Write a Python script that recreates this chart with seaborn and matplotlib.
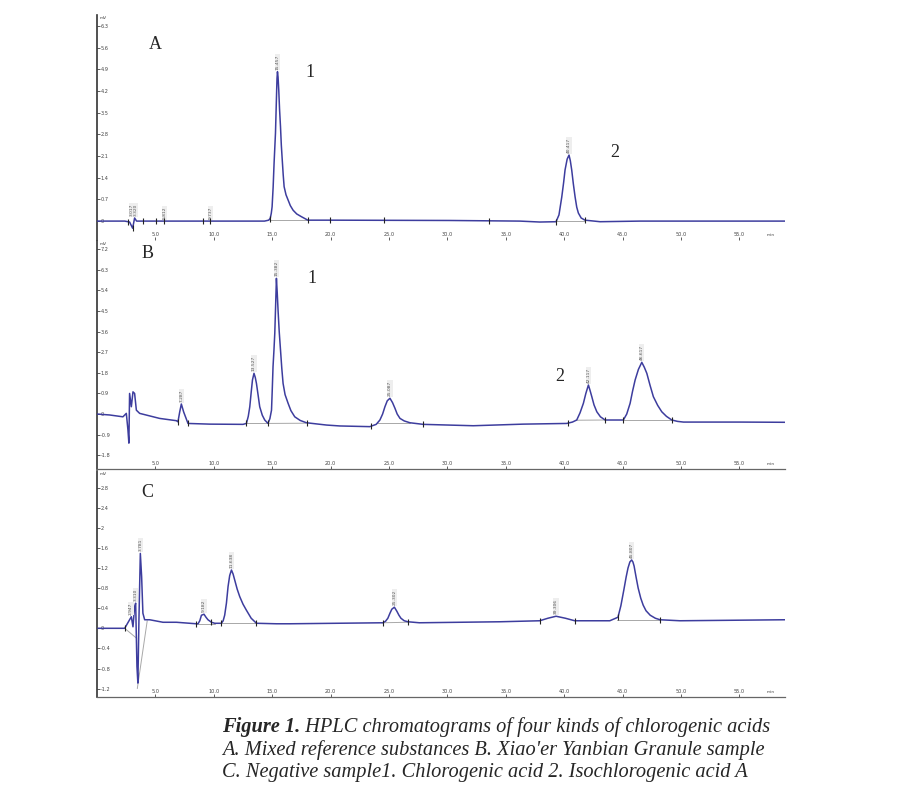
import matplotlib
matplotlib.use("Agg")
import matplotlib.pyplot as plt
import numpy as np
import pandas as pd
import seaborn as sns

sns.set_style("white")
plt.rcParams["font.family"] = ["DejaVu Sans"]

# ---------------- data ----------------
# Panel A: mixed reference substances (time in min, signal in mV)
a_time = [0.0, 2.37, 2.79, 3.05, 3.22, 3.39, 5.79, 9.65, 14.34, 14.7, 14.83, 14.92,
          14.99, 15.08, 15.16, 15.28, 15.35, 15.41, 15.45, 15.50, 15.56, 15.63, 15.71,
          15.78, 15.86, 15.94, 16.02, 16.18, 16.36, 16.55, 16.79, 17.1, 17.51, 18.05,
          19.93, 30.2, 36.2, 37.9, 39.3, 39.55, 39.79, 39.95, 40.07, 40.25, 40.41,
          40.52, 40.64, 40.78, 40.93, 41.07, 41.21, 41.45, 41.78, 43.07, 46.5, 58.9]
a_signal = [0.0, 0.0, -0.03, -0.23, 0.10, 0.0, 0.0, 0.0, 0.0, 0.03, 0.09, 0.25,
            0.46, 1.10, 1.87, 2.84, 3.80, 4.60, 4.82, 4.65, 4.23, 3.60, 3.04,
            2.45, 1.97, 1.50, 1.11, 0.85, 0.68, 0.50, 0.35, 0.23, 0.14, 0.03,
            0.03, 0.02, 0.0, -0.03, -0.02, 0.20, 0.78, 1.25, 1.65, 2.00, 2.13,
            1.95, 1.65, 1.20, 0.78, 0.45, 0.26, 0.10, 0.03, -0.02, 0.0, 0.0]

# Panel B: Xiao'er Yanbian Granule sample
b_time = [0.03, 1.08, 2.22, 2.51, 2.65, 2.73, 2.79, 2.94, 3.08, 3.22, 3.37, 3.65,
          5.36, 6.80, 6.93, 7.08, 7.22, 7.42, 7.79, 9.65, 12.50,
          12.79, 12.95, 13.08, 13.2, 13.31, 13.44, 13.55, 13.65, 13.8, 13.93, 14.15,
          14.36, 14.64, 14.8, 14.94, 15.0, 15.07, 15.15, 15.22, 15.29, 15.36, 15.43,
          15.50, 15.6, 15.71, 15.82, 15.93, 16.1, 16.36, 16.6, 16.93, 17.4, 17.93,
          19.65, 20.79, 23.36, 23.9, 24.22, 24.45, 24.65, 24.85, 25.08, 25.3, 25.51,
          25.7, 25.94, 26.3, 26.79, 27.93, 32.21, 36.50, 40.21, 40.7, 41.07, 41.35,
          41.64, 41.85, 42.07, 42.2, 42.36, 42.55, 42.79, 43.1, 43.50, 45.06, 45.35,
          45.64, 45.85, 46.07, 46.35, 46.64, 46.85, 47.07, 47.35, 47.63, 48.0, 48.35,
          48.75, 49.21, 49.7, 50.21, 55.06, 59.0]
b_signal = [0.0, -0.04, -0.12, 0.03, -0.70, -1.27, 0.90, 0.32, 0.97, 0.90, 0.17, 0.03,
            -0.19, -0.29, -0.34, 0.09, 0.44, 0.09, -0.41, -0.44, -0.45,
            -0.41, -0.10, 0.32, 0.95, 1.49, 1.78, 1.60, 1.34, 0.80, 0.32, -0.05,
            -0.26, -0.41, -0.20, 0.17, 1.00, 2.07, 2.80, 3.53, 4.70, 5.93, 5.30,
            4.54, 3.60, 2.80, 2.00, 1.34, 0.85, 0.47, 0.15, -0.12, -0.28, -0.38,
            -0.48, -0.52, -0.55, -0.45, -0.26, 0.00, 0.32, 0.58, 0.69, 0.50, 0.25,
            0.00, -0.19, -0.30, -0.38, -0.45, -0.51, -0.44, -0.41, -0.35, -0.26, 0.05,
            0.47, 0.90, 1.27, 1.05, 0.76, 0.40, 0.10, -0.12, -0.26, -0.26, 0.00,
            0.47, 1.00, 1.49, 1.95, 2.26, 2.05, 1.78, 1.25, 0.76, 0.38, 0.10,
            -0.10, -0.26, -0.32, -0.35, -0.35, -0.36]

# Panel C: negative sample
c_time = [0.08, 2.37, 2.79, 2.94, 3.08, 3.22, 3.31, 3.42, 3.50, 3.59, 3.71, 3.82,
          3.93, 4.08, 4.51, 5.65, 6.80, 8.51, 8.65, 8.8, 8.94, 9.16, 9.33, 9.50, 9.8,
          10.08, 10.65, 10.8, 10.93, 11.08, 11.22, 11.36, 11.51, 11.65, 11.79, 12.0,
          12.22, 12.5, 12.79, 13.2, 13.65, 15.36, 16.50, 24.47, 24.7, 24.9, 25.08,
          25.24, 25.46, 25.67, 25.85, 26.02, 26.3, 26.62, 27.6, 34.5, 37.9, 38.6, 39.3,
          40.1, 40.9, 43.9, 44.6, 44.85, 45.1, 45.3, 45.46, 45.62, 45.77, 45.88, 45.98,
          46.15, 46.33, 46.55, 46.76, 47.0, 47.36, 47.8, 48.2, 49.9, 58.9]
c_signal = [0.0, 0.0, 0.17, 0.23, 0.03, 0.43, 0.50, -0.76, -1.09, 0.17, 1.49, 1.03,
            0.30, 0.17, 0.17, 0.12, 0.12, 0.09, 0.09, 0.15, 0.26, 0.28, 0.22, 0.17, 0.12,
            0.10, 0.10, 0.15, 0.26, 0.50, 0.83, 1.05, 1.16, 1.08, 0.96, 0.78,
            0.63, 0.48, 0.36, 0.20, 0.10, 0.09, 0.09, 0.11, 0.14, 0.20, 0.30,
            0.38, 0.42, 0.34, 0.26, 0.20, 0.15, 0.13, 0.11, 0.13, 0.15, 0.20, 0.24,
            0.20, 0.15, 0.15, 0.22, 0.45, 0.76, 1.02, 1.20, 1.32, 1.36, 1.32, 1.24,
            1.02, 0.80, 0.60, 0.46, 0.35, 0.26, 0.20, 0.17, 0.15, 0.17]

# integration baselines (start time, start mV, end time, end mV)
a_base = [(14.8, 0.03, 18.0, 0.03), (39.3, 0.0, 41.8, 0.0)]
b_base = [(12.79, -0.41, 14.64, -0.41), (14.64, -0.41, 17.9, -0.40),
          (24.0, -0.40, 26.8, -0.40), (41.0, -0.27, 43.5, -0.26),
          (45.06, -0.27, 49.2, -0.27)]
c_base = [(2.37, 0.0, 3.4, -0.2), (3.45, -1.2, 4.3, 0.15), (10.65, 0.10, 13.65, 0.10),
          (8.6, 0.09, 10.1, 0.09), (24.4, 0.11, 26.6, 0.12), (44.5, 0.17, 48.2, 0.17)]

# peak start / end event marks (time in min)
a_marks = [2.63, 3.05, 3.9, 5.03, 5.7, 9.05, 9.65, 14.8, 18.05, 19.93, 24.6, 33.6, 39.3, 41.8]
b_marks = [6.93, 7.79, 12.79, 14.64, 18.0, 23.5, 27.93, 40.3, 43.5, 45.06, 49.21]
c_marks = [2.37, 8.51, 9.8, 10.65, 13.65, 24.47, 26.62, 37.9, 40.9, 44.6, 48.2]

# retention-time labels on the peaks
a_rt = [3.0, 3.3, 5.8, 9.7, 15.45, 40.4]
a_rt_top = [0.1, 0.1, 0.0, 0.0, 4.82, 2.13]
a_rt_lab = ["3.017", "3.320", "5.812", "9.737", "15.457", "40.417"]
b_rt = [7.22, 13.44, 15.36, 25.08, 42.07, 46.64]
b_rt_top = [0.44, 1.78, 5.93, 0.69, 1.27, 2.26]
b_rt_lab = ["7.287", "13.527", "15.382", "25.087", "42.117", "46.617"]
c_rt = [2.9, 3.3, 3.75, 9.16, 11.51, 25.46, 39.3, 45.77]
c_rt_top = [0.23, 0.50, 1.49, 0.28, 1.16, 0.42, 0.24, 1.36]
c_rt_lab = ["2.947", "3.310", "3.781", "9.182", "11.638", "25.302", "39.306", "45.807"]

x_ticks = [5, 10, 15, 20, 25, 30, 35, 40, 45, 50, 55]
a_yticks = [0.0, 0.7, 1.4, 2.1, 2.8, 3.5, 4.2, 4.9, 5.6, 6.3]
b_yticks = [-1.8, -0.9, 0.0, 0.9, 1.8, 2.7, 3.6, 4.5, 5.4, 6.3, 7.2]
c_yticks = [-1.2, -0.8, -0.4, 0.0, 0.4, 0.8, 1.2, 1.6, 2.0, 2.4, 2.8]

panel_letters = ["A", "B", "C"]
caption_title = "Figure 1."
caption_lines = [" HPLC chromatograms of four kinds of chlorogenic acids",
                 "A. Mixed reference substances B. Xiao'er Yanbian Granule sample",
                 "C. Negative sample1. Chlorogenic acid 2. Isochlorogenic acid A"]

# ---------------- figure ----------------
W, H = 912, 799
fig = plt.figure(figsize=(W / 100, H / 100), dpi=100)
fig.patch.set_facecolor("white")

def rect(top_px, bot_px, left_px=97, right_px=785):
    return [left_px / W, 1 - bot_px / H, (right_px - left_px) / W, (bot_px - top_px) / H]

line_col = "#3d3d9e"
panels = [
    dict(t=a_time, s=a_signal, base=a_base, marks=a_marks, rt=a_rt, top=a_rt_top,
         lab=a_rt_lab, yt=a_yticks, ylim=(-0.61, 6.65), r=rect(15, 240), spine=False),
    dict(t=b_time, s=b_signal, base=b_base, marks=b_marks, rt=b_rt, top=b_rt_top,
         lab=b_rt_lab, yt=b_yticks, ylim=(-2.40, 7.56), r=rect(241, 469), spine=True),
    dict(t=c_time, s=c_signal, base=c_base, marks=c_marks, rt=c_rt, top=c_rt_top,
         lab=c_rt_lab, yt=c_yticks, ylim=(-1.367, 3.13), r=rect(471, 697), spine=True),
]

axes = []
for i, p in enumerate(panels):
    ax = fig.add_axes(p["r"])
    axes.append(ax)
    for (t0, v0, t1, v1) in p["base"]:
        ax.plot([t0, t1], [v0, v1], color="#a8a8a8", lw=0.7, zorder=1)
    df = pd.DataFrame({"time": p["t"], "signal": p["s"]})
    sns.lineplot(data=df, x="time", y="signal", ax=ax, color=line_col, lw=1.1,
                 sort=False, estimator=None, zorder=3)
    mk = pd.DataFrame({"time": p["marks"],
                       "signal": np.interp(p["marks"], p["t"], p["s"])})
    sns.scatterplot(data=mk, x="time", y="signal", ax=ax, marker="|", s=14,
                    color="#222222", linewidth=0.8, zorder=4)
    for t, top, lab in zip(p["rt"], p["top"], p["lab"]):
        ax.annotate(lab, (t, top), xytext=(0, 1.5), textcoords="offset points",
                    rotation=90, ha="center", va="bottom", fontsize=3.2, color="#555555",
                    bbox=dict(boxstyle="square,pad=0.15", fc="#eeeeee", ec="none"))
    ax.set_xlim(0, 58.9)
    ax.set_ylim(*p["ylim"])
    ax.set_xticks(x_ticks)
    ax.set_xticklabels([f"{v:.1f}" for v in x_ticks])
    ax.set_yticks(p["yt"])
    ax.set_yticklabels([("0" if v == 0 else f"{v:g}") for v in p["yt"]])
    ax.tick_params(axis="y", direction="in", length=2, width=0.6, pad=-2.5,
                   labelsize=3.6, labelcolor="#444444", colors="#444444", left=True)
    ax.tick_params(axis="x", direction="in", length=2, width=0.6, pad=-2.5,
                   labelsize=3.6, labelcolor="#444444", colors="#444444", bottom=True)
    for lb in ax.get_yticklabels():
        lb.set_ha("left")
    for lb in ax.get_xticklabels():
        lb.set_va("bottom")
    ax.set_xlabel("")
    ax.set_ylabel("")
    ax.patch.set_alpha(0)
    for side in ["top", "right"]:
        ax.spines[side].set_visible(False)
    ax.spines["left"].set_color("#333333")
    ax.spines["left"].set_linewidth(1.2)
    ax.spines["bottom"].set_visible(p["spine"])
    ax.spines["bottom"].set_color("#666666")
    ax.spines["bottom"].set_linewidth(0.9)
    ax.text(0.004, 0.995, "mV", transform=ax.transAxes, fontsize=3.2, color="#444444",
            ha="left", va="top")
    ax.text(0.985, 0.012, "min", transform=ax.transAxes, fontsize=3.2, color="#444444",
            ha="right", va="bottom")

serif = ["Liberation Serif", "DejaVu Serif"]
# panel letters
letter_pos = [(5.0, 5.71), (4.3, 7.0), (4.3, 2.71)]
for ax, L, (x, y) in zip(axes, panel_letters, letter_pos):
    ax.text(x, y, L, fontsize=13, family=serif, ha="center", va="center")
# peak numbers
axes[0].text(18.2, 4.8, "1", fontsize=13, family=serif, ha="center", va="center")
axes[0].text(44.3, 2.2, "2", fontsize=13, family=serif, ha="center", va="center")
axes[1].text(18.4, 5.9, "1", fontsize=13, family=serif, ha="center", va="center")
axes[1].text(39.6, 1.65, "2", fontsize=13, family=serif, ha="center", va="center")

# caption
cx = 222 / W
fs = 14.7
t1 = fig.text(cx, 1 - 727 / H, caption_title, fontsize=fs, family=serif,
              style="italic", weight="bold", ha="left", va="center")
fig.canvas.draw()
bb = t1.get_window_extent(fig.canvas.get_renderer())
fig.text(bb.x1 / W, 1 - 727 / H, caption_lines[0], fontsize=fs, family=serif,
         style="italic", ha="left", va="center")
fig.text(cx, 1 - 750 / H, caption_lines[1], fontsize=fs, family=serif,
         style="italic", ha="left", va="center")
fig.text(cx, 1 - 773 / H, caption_lines[2], fontsize=fs, family=serif,
         style="italic", ha="left", va="center")

fig.savefig("out.png", dpi=100, facecolor="white")
